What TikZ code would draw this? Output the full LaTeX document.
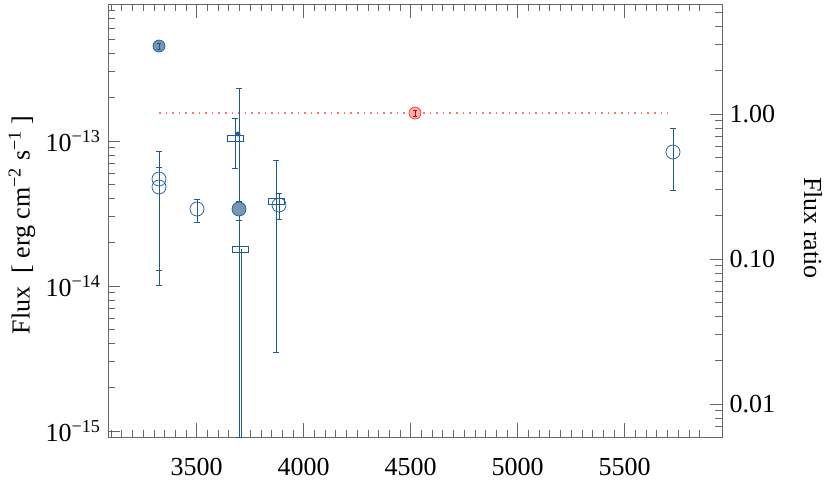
\documentclass[tikz,border=0pt]{standalone}
\usepackage{fontspec}
\setmainfont{Liberation Serif}
\definecolor{datblue}{RGB}{30,90,150}
\definecolor{datfill}{RGB}{120,150,180}
\begin{document}
\begin{tikzpicture}[x=1pt,y=-1pt,
  ax/.style={draw=gray!80!black,line width=0.8pt},
  dat/.style={draw=datblue,line width=0.7pt},
  eb/.style={draw=datblue,line width=0.8pt},
  lab/.style={font=\fontsize{26}{30}\selectfont}]
\useasboundingbox (0,0) rectangle (830,483);
% frame
\draw[ax] (108,4) rectangle (722,437);
% x ticks
\foreach \i in {0,...,57}{
  \pgfmathsetmacro\xx{89.7+0.214*(50*\i)}
  \ifdim\xx pt>108pt \ifdim\xx pt<722pt
  \draw[ax] (\xx,437) -- ++(0,-7);
  \draw[ax] (\xx,4) -- ++(0,7);
  \fi\fi}
\foreach \v in {3500,4000,4500,5000,5500}{
  \pgfmathsetmacro\xx{196.7+0.214*(\v-3500)}
  \draw[ax] (\xx,437) -- ++(0,-14);
  \draw[ax] (\xx,4) -- ++(0,14);
  \node[lab] (xl\v) at (\xx,467) {\v};}
% left log ticks
\foreach \d in {-16,-15,-14,-13}{
  \foreach \k in {1,...,9}{
    \pgfmathsetmacro\yy{141-145*(\d+13+log10(\k))}
    \ifdim\yy pt>5pt \ifdim\yy pt<436pt
    \ifnum\k=1 \draw[ax] (108,\yy) -- ++(12,0);
    \else \draw[ax] (108,\yy) -- ++(7,0); \fi
    \fi\fi}}
\node[lab,anchor=east] (yl13) at (104,141) {10\textsuperscript{−13}};
\node[lab,anchor=east] (yl14) at (104,286) {10\textsuperscript{−14}};
\node[lab,anchor=east] (yl15) at (104,431) {10\textsuperscript{−15}};
% right log ticks
\foreach \d in {-3,-2,-1,0}{
  \foreach \k in {1,...,9}{
    \pgfmathsetmacro\yy{114-145*(\d+log10(\k))}
    \ifdim\yy pt>5pt \ifdim\yy pt<436pt
    \ifnum\k=1 \draw[ax] (722,\yy) -- ++(-12,0);
    \else \draw[ax] (722,\yy) -- ++(-7,0); \fi
    \fi\fi}}
\node[lab,anchor=west] (r1) at (726,114) {1.00};
\node[lab,anchor=west] (r2) at (726,259) {0.10};
\node[lab,anchor=west] (r3) at (726,404) {0.01};
% axis titles
\node[lab,rotate=90] (ytitle) at (22,225) {Flux\ \ [ erg cm\textsuperscript{−2} s\textsuperscript{−1} ]};
\node[lab,rotate=-90] (rtitle) at (813,228) {Flux ratio};
% reference line
\draw[red!55,line width=1.6pt,dash pattern=on 1.6pt off 5pt] (159,113) -- (668,113);
% error bars
\foreach \x/\a/\b in {159/151/285, 159/167/270, 197/199/222, 239/201/220, 239/88/437, 235/118/168, 276/160/352, 279/193/219, 673/128/190}{
  \draw[eb] (\x,\a) -- (\x,\b);
  \draw[eb] (\x-3,\a) -- (\x+3,\a);
  \draw[eb] (\x-3,\b) -- (\x+3,\b);}
\draw[eb] (241,249) -- (241,437);
% symbols
\node[circle,dat,fill=datfill,minimum size=12pt,inner sep=0] (p1) at (159,46) {};
\draw[eb] (159,43)--(159,49) (157,43)--(161,43) (157,49)--(161,49);
\node[circle,draw=red!80,fill=red!30,line width=0.7pt,minimum size=12pt,inner sep=0] (pr) at (415,113) {};
\draw[red!80!black,line width=0.8pt] (415,110)--(415,116) (413,110)--(417,110) (413,116)--(417,116);
\node[circle,dat,minimum size=14pt,inner sep=0] (p2) at (159,179) {};
\node[circle,dat,minimum size=14pt,inner sep=0] (p3) at (159,187) {};
\node[circle,dat,minimum size=14pt,inner sep=0] (p4) at (197,209) {};
\node[circle,dat,fill=datfill,minimum size=14pt,inner sep=0] (p5) at (239,209) {};
\node[circle,fill=datblue,minimum size=5pt,inner sep=0] (p6) at (238,134) {};
\node[rectangle,dat,minimum width=16pt,minimum height=6pt,inner sep=0] (s1) at (235,138) {};
\node[rectangle,dat,minimum width=16pt,minimum height=6pt,inner sep=0] (s2) at (240,249) {};
\node[rectangle,dat,minimum width=16pt,minimum height=6pt,inner sep=0] (s3) at (276,201) {};
\node[circle,dat,minimum size=14pt,inner sep=0] (p7) at (279,205) {};
\node[circle,dat,minimum size=14pt,inner sep=0] (p8) at (673,152) {};
\end{tikzpicture}
\end{document}
